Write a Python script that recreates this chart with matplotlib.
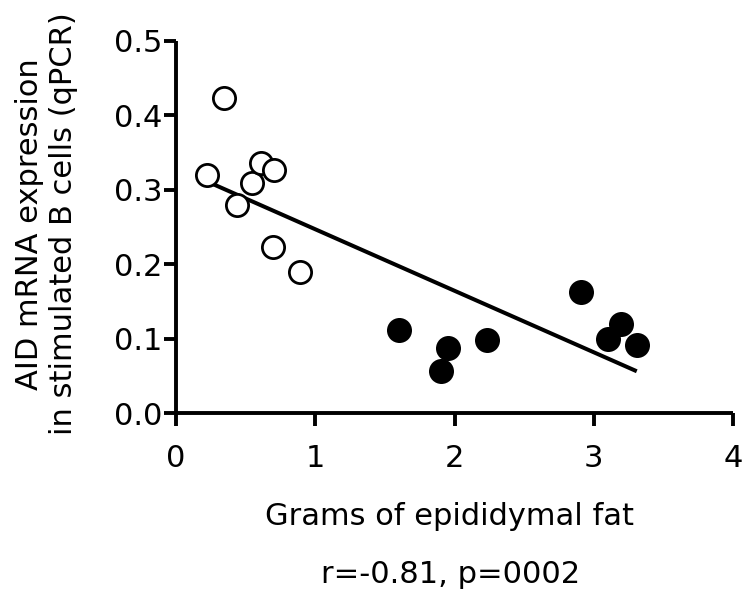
import numpy as np
import matplotlib
matplotlib.use("Agg")
import matplotlib.pyplot as plt

plt.rcParams["font.family"] = ["DejaVu Sans"]

# lean mice (open circles)
fat_open = [0.225, 0.345, 0.436, 0.548, 0.608, 0.703, 0.699, 0.890]
aid_open = [0.320, 0.423, 0.279, 0.309, 0.336, 0.326, 0.223, 0.190]

# obese mice (filled circles)
fat_filled = [1.603, 1.901, 1.955, 2.231, 2.907, 3.100, 3.199, 3.309]
aid_filled = [0.111, 0.057, 0.087, 0.098, 0.163, 0.100, 0.120, 0.091]

xticks = [0, 1, 2, 3, 4]
yticks = [0.0, 0.1, 0.2, 0.3, 0.4, 0.5]
ylabels = ["0.0", "0.1", "0.2", "0.3", "0.4", "0.5"]

fig = plt.figure(figsize=(7.5, 5.94), dpi=100)
ax = fig.add_axes([0.2347, 0.3047, 0.7426, 0.6268])

# regression line over all points
all_x = np.array(fat_open + fat_filled)
all_y = np.array(aid_open + aid_filled)
slope, icpt = np.polyfit(all_x, all_y, 1)
lx = np.array([all_x.min(), all_x.max()])
ax.plot(lx, slope * lx + icpt, color="black", lw=2.9, solid_capstyle="butt", zorder=2)

ax.plot(fat_open, aid_open, "o", ms=16, mfc="white", mec="black", mew=2.0, zorder=3)
ax.plot(fat_filled, aid_filled, "o", ms=16, mfc="black", mec="black", mew=2.0, zorder=3)

ax.set_xlim(0, 4)
ax.set_ylim(0, 0.5)
ax.set_xticks(xticks)
ax.set_yticks(yticks)
ax.set_yticklabels(ylabels)
ax.spines["top"].set_visible(False)
ax.spines["right"].set_visible(False)
for s in ["left", "bottom"]:
    ax.spines[s].set_linewidth(2.8)
    ax.spines[s].set_capstyle("butt")
ax.tick_params(axis="both", width=2.8, length=9, labelsize=22)
ax.tick_params(axis="y", pad=1)
ax.tick_params(axis="x", pad=13)

fs = 22
fig.text(0.599, 0.1162, "Grams of epididymal fat", ha="center", va="baseline", fontsize=fs)
fig.text(0.601, 0.0185, "r=-0.81, p=0002", ha="center", va="baseline", fontsize=fs)
fig.text(0.0507, 0.623, "AID mRNA expression", rotation=90, rotation_mode="anchor",
         ha="center", va="baseline", fontsize=fs)
fig.text(0.096, 0.623, "in stimulated B cells (qPCR)", rotation=90, rotation_mode="anchor",
         ha="center", va="baseline", fontsize=fs)

fig.savefig("out.png", dpi=100)
